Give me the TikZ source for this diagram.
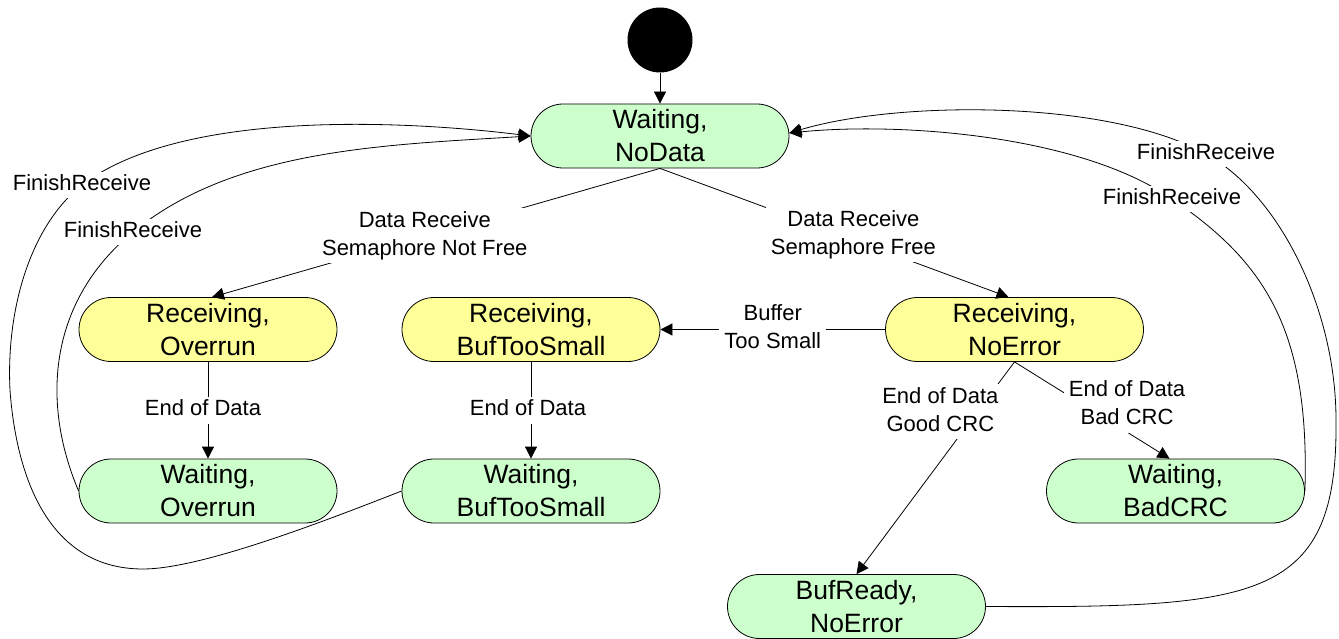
\documentclass[tikz,border=0pt]{standalone}
\usepackage{fontspec}
\setmainfont{Liberation Sans}
\usetikzlibrary{arrows.meta}
\definecolor{waitgreen}{RGB}{204,255,204}
\definecolor{recvyellow}{RGB}{255,255,153}
\newcommand{\lst}{\rule[-5pt]{0pt}{20pt}}
\begin{document}
\begin{tikzpicture}[x=1pt,y=-1pt,
  stbox/.style={draw=black, line width=0.8pt, rounded corners=32pt,
    minimum width=258pt, minimum height=64pt, align=center,
    font=\fontsize{26.5}{33}\selectfont},
  waitst/.style={stbox, fill=waitgreen},
  recvst/.style={stbox, fill=recvyellow},
  lbl/.style={fill=white, align=center, font=\fontsize{22}{28}\selectfont,
    inner xsep=5pt, inner ysep=3pt},
  tr/.style={-{Triangle[length=12pt,width=12pt]}, line width=0.8pt}]
\useasboundingbox (0,0) rectangle (1339,639);

% states
\node[circle, fill=black, minimum size=65pt, inner sep=0pt] (init) at (660,40) {};
\node[waitst] (nodata) at (660,136) {Waiting,\\NoData};
\node[recvst] (rov) at (208,329.5) {Receiving,\\Overrun};
\node[recvst] (rbuf) at (531,329.5) {Receiving,\\BufTooSmall};
\node[recvst] (rok) at (1014.5,329.5) {Receiving,\\NoError};
\node[waitst] (wov) at (208,491) {Waiting,\\Overrun};
\node[waitst] (wbuf) at (531,491) {Waiting,\\BufTooSmall};
\node[waitst] (wcrc) at (1175.5,491) {Waiting,\\BadCRC};
\node[waitst] (ready) at (856.5,606.5) {BufReady,\\NoError};

% straight transitions
\draw[tr] (init) -- (nodata);
\draw[tr] (nodata.south) -- node[lbl,pos=0.525]{\lst Data Receive\\\lst Semaphore Not Free} ([xshift=4pt]rov.north);
\draw[tr] (nodata.south) -- node[lbl,pos=0.555,yshift=5pt]{\lst Data Receive\\\lst Semaphore Free} ([xshift=-6pt]rok.north);
\draw[tr] (rok.west) -- node[lbl]{\lst Buffer\\\lst Too Small} (rbuf.east);
\draw[tr] (rov) -- node[lbl,xshift=-5pt]{\lst End of Data} (wov);
\draw[tr] (rbuf) -- node[lbl,xshift=-3pt]{\lst End of Data} (wbuf);
\draw[tr] (rok.south) -- node[lbl,pos=0.235,xshift=-37pt]{\lst End of Data\\\lst Good CRC} (ready.north);
\draw[tr] (rok.south) -- node[lbl,pos=0.726,yshift=27pt]{\lst End of Data\\\lst Bad CRC} ([xshift=-6pt]wcrc.north);

% FinishReceive curves, left
\draw[tr] (wbuf.west) .. controls (320,523) and (200,569) .. (143,569)
  .. controls (40,569) and (15,460) .. (10,390)
  .. controls (6,310) and (30,226) .. (82,185) node[lbl]{\lst FinishReceive}
  .. controls (180,110) and (400,120) .. (nodata.west);
\draw[tr] (wov.west) .. controls (40,400) and (50,300) .. (133,232) node[lbl]{\lst FinishReceive}
  .. controls (233,150) and (380,145) .. (nodata.west);

% FinishReceive curves, right
\draw[tr] (ready.east) .. controls (1260,608) and (1338,600) .. (1336,420)
  .. controls (1336,310) and (1280,195) .. (1206,154) node[lbl]{\lst FinishReceive}
  .. controls (1110,100) and (900,100) .. ([yshift=3pt]nodata.east);
\draw[tr] (wcrc.east) .. controls (1310,330) and (1265,262) .. (1172,199) node[lbl]{\lst FinishReceive}
  .. controls (1080,135) and (900,122) .. ([yshift=3pt]nodata.east);
\end{tikzpicture}
\end{document}
